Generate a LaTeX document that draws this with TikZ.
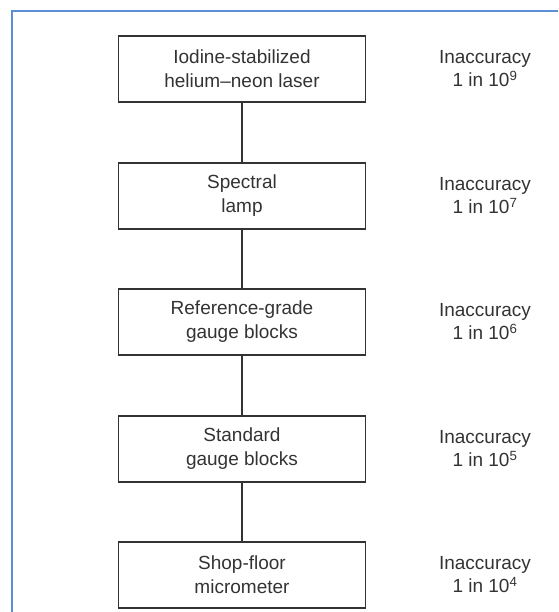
\documentclass[tikz,border=0pt]{standalone}
\usepackage{fontspec}
\setmainfont{Liberation Sans}
\definecolor{framblue}{HTML}{5B8FD6}
\definecolor{inkgray}{HTML}{333333}
\begin{document}
\begin{tikzpicture}[x=1pt,y=-1pt,
  stage/.style={draw=inkgray,line width=1.4pt,minimum width=247pt,minimum height=66pt,
    align=center,text=inkgray,font=\fontsize{19}{24}\selectfont},
  acc/.style={align=center,text=inkgray,font=\fontsize{19}{23}\selectfont}]
  \useasboundingbox (0,0) rectangle (558,612);
  \draw[framblue, line width=2pt] (12,612) -- (12,11) -- (558,11);

  \node[stage] (laser) at (242,69) {Iodine-stabilized\\helium--neon laser};
  \node[stage] (lamp) at (242,196) {Spectral\\lamp};
  \node[stage] (refblocks) at (242,322) {Reference-grade\\gauge blocks};
  \node[stage] (stdblocks) at (242,449) {Standard\\gauge blocks};
  \node[stage] (micro) at (242,575) {Shop-floor\\micrometer};

  \node[acc] (acclaser) at (485,69) {Inaccuracy\\1 in 10\textsuperscript{9}};
  \node[acc] (acclamp) at (485,196) {Inaccuracy\\1 in 10\textsuperscript{7}};
  \node[acc] (accref) at (485,322) {Inaccuracy\\1 in 10\textsuperscript{6}};
  \node[acc] (accstd) at (485,449) {Inaccuracy\\1 in 10\textsuperscript{5}};
  \node[acc] (accmicro) at (485,575) {Inaccuracy\\1 in 10\textsuperscript{4}};

  \draw[inkgray, line width=1.4pt] (laser) -- (lamp);
  \draw[inkgray, line width=1.4pt] (lamp) -- (refblocks);
  \draw[inkgray, line width=1.4pt] (refblocks) -- (stdblocks);
  \draw[inkgray, line width=1.4pt] (stdblocks) -- (micro);
\end{tikzpicture}
\end{document}
